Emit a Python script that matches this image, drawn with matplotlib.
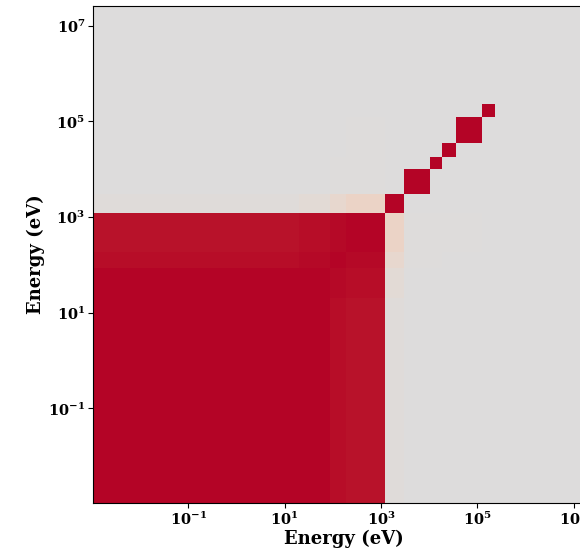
import numpy as np
import matplotlib
matplotlib.use("Agg")
import matplotlib.pyplot as plt

plt.rcParams['font.family'] = 'DejaVu Serif'
plt.rcParams['font.weight'] = 'bold'
plt.rcParams['axes.labelweight'] = 'bold'
plt.rcParams['mathtext.fontset'] = 'dejavuserif'

# energy group boundaries (eV)
edges = [1.05e-3, 20.0, 85.0, 190.0, 1.23e3, 3.0e3, 1.03e4, 1.85e4, 3.5e4, 1.25e5, 2.35e5, 2.6e7]

# group-wise correlation matrix (symmetric)
corr = [
    [1.00, 1.00, 0.98, 0.97, 0.02, 0.00, 0.00, 0.00, 0.00, 0.00, 0.00],
    [1.00, 1.00, 0.99, 0.98, 0.04, 0.00, 0.00, 0.00, 0.00, 0.00, 0.00],
    [0.98, 0.99, 1.00, 0.99, 0.08, 0.01, 0.01, 0.00, 0.00, 0.00, 0.00],
    [0.97, 0.98, 0.99, 1.00, 0.12, 0.015, 0.015, 0.008, 0.008, 0.00, 0.00],
    [0.02, 0.04, 0.08, 0.12, 1.00, 0.00, 0.00, 0.00, 0.00, 0.00, 0.00],
    [0.00, 0.00, 0.01, 0.015, 0.00, 1.00, 0.00, 0.00, 0.00, 0.00, 0.00],
    [0.00, 0.00, 0.01, 0.015, 0.00, 0.00, 1.00, 0.00, 0.00, 0.00, 0.00],
    [0.00, 0.00, 0.00, 0.008, 0.00, 0.00, 0.00, 1.00, 0.00, 0.00, 0.00],
    [0.00, 0.00, 0.00, 0.008, 0.00, 0.00, 0.00, 0.00, 1.00, 0.00, 0.00],
    [0.00, 0.00, 0.00, 0.00, 0.00, 0.00, 0.00, 0.00, 0.00, 1.00, 0.00],
    [0.00, 0.00, 0.00, 0.00, 0.00, 0.00, 0.00, 0.00, 0.00, 0.00, 0.00],
]

fig = plt.figure(figsize=(5.8, 5.51), dpi=100)
ax = fig.add_axes([0.1603, 0.0871, 0.8636, 0.902])

ax.pcolormesh(edges, edges, np.array(corr), cmap='coolwarm', vmin=-1, vmax=1)
ax.set_xscale('log')
ax.set_yscale('log')
ax.set_xlim(edges[0], edges[-1])
ax.set_ylim(edges[0], edges[-1])

ticks = [1e-1, 1e1, 1e3, 1e5, 1e7]
ax.set_xticks(ticks)
ax.set_yticks(ticks)
ax.minorticks_off()
ax.tick_params(labelsize=10.5, pad=2)

ax.set_xlabel('Energy (eV)', fontsize=13, labelpad=1)
ax.set_ylabel('Energy (eV)', fontsize=13, labelpad=2)

fig.savefig('out.png', dpi=100)
